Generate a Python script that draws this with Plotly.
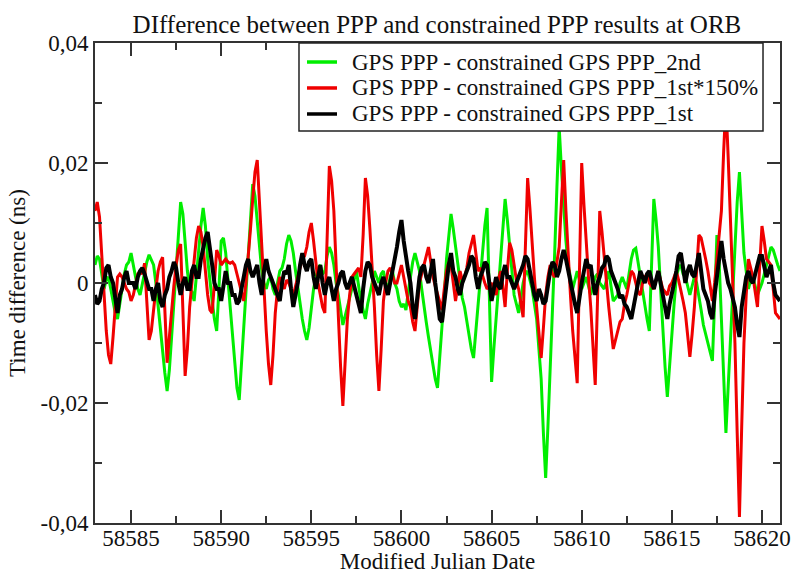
import plotly.graph_objects as go

# GPS PPP - constrained GPS PPP_2nd (ns), sampled every 0.125 day from MJD 58583.0
green_start, green_step = 58583.0, 0.125
green_vals = [
    0.003, 0.0045, 0.004, 0.001, -0.001, 0.0005, 0.001, -0.001, -0.003, -0.005,
    -0.006, -0.0035, -0.001, 0.0015, 0.003, 0.0035, 0.005, 0.003, 0.001, -0.001,
    -0.002, 0.0, 0.002, 0.0035, 0.0047, 0.0038, 0.003, 0.0, -0.004, -0.0075,
    -0.011, -0.015, -0.018, -0.0145, -0.009, -0.003, 0.002, 0.008, 0.0135, 0.0115,
    0.006, 0.002, -0.001, -0.0015, -0.003, 0.001, 0.006, 0.0095, 0.0125, 0.0095,
    0.004, 0.0, -0.003, -0.006, -0.008, -0.001, 0.007, 0.0075, 0.005, 0.0005,
    -0.004, -0.0085, -0.013, -0.0175, -0.0195, -0.0135, -0.006, 0.0, 0.006, 0.0115,
    0.0165, 0.0145, 0.010, 0.0055, 0.002, 0.0, -0.001, 0.0005, 0.001, -0.001,
    -0.002, 0.0, 0.002, 0.0025, 0.004, 0.0065, 0.008, 0.007, 0.005, 0.002,
    -0.001, -0.004, -0.006, -0.008, -0.0095, -0.0075, -0.004, -0.001, 0.001, 0.0025,
    0.003, 0.0015, 0.002, 0.0045, 0.006, 0.005, 0.003, 0.0, -0.002, -0.005,
    -0.007, -0.0055, -0.004, -0.0025, -0.001, 0.001, 0.002, -0.0005, -0.003, -0.0045,
    -0.006, -0.0035, -0.002, 0.0, 0.002, 0.001, 0.000, 0.0015, 0.002, 0.0,
    -0.001, 0.001, 0.002, 0.0, -0.001, -0.003, -0.004, -0.0035, -0.0045, -0.0015,
    0.001, 0.0035, 0.005, 0.0035, 0.002, -0.001, -0.004, -0.0065, -0.009, -0.0115,
    -0.014, -0.016, -0.0175, -0.0125, -0.008, -0.002, 0.004, 0.008, 0.0115, 0.009,
    0.006, 0.003, 0.000, -0.0025, -0.004, -0.0065, -0.009, -0.011, -0.0125, -0.008,
    -0.004, 0.001, 0.006, 0.0095, 0.0125, -0.002, -0.0165, -0.011, -0.006, -0.001,
    0.004, 0.009, 0.014, 0.0105, 0.006, 0.002, -0.002, -0.0035, -0.005, -0.0025,
    0.000, 0.0015, 0.002, 0.0005, -0.001, -0.0035, -0.006, -0.011, -0.016, -0.025,
    -0.0325, -0.024, -0.015, -0.005, 0.005, 0.016, 0.026, 0.019, 0.012, 0.007,
    0.003, 0.001, -0.001, 0.0005, 0.002, 0.0005, -0.001, 0.0, 0.001, -0.0005,
    -0.002, -0.0005, 0.001, 0.0015, 0.000, -0.0005, -0.001, 0.0005, 0.002, -0.0005,
    -0.003, -0.0025, -0.002, 0.0, 0.001, 0.0, -0.001, 0.0015, 0.004, 0.0055,
    0.0058, 0.0035, 0.001, -0.0015, -0.004, -0.006, -0.008, 0.003, 0.014, 0.0105,
    0.006, -0.001, -0.008, -0.014, -0.019, -0.0135, -0.008, -0.0035, 0.001, 0.0025,
    0.003, 0.0015, 0.001, -0.0005, -0.002, -0.0005, 0.001, 0.0, -0.002, -0.0045,
    -0.007, -0.0085, -0.010, -0.0115, -0.013, -0.003, 0.008, 0.0035, -0.005, -0.0155,
    -0.025, -0.017, -0.008, 0.0, 0.008, 0.0135, 0.0185, 0.012, 0.005, 0.002,
    -0.001, 0.0005, 0.001, -0.0005, -0.002, -0.001, 0.000, 0.0015, 0.003, 0.0045,
    0.006, 0.0055, 0.004, 0.003, 0.002,
]

# GPS PPP - constrained GPS PPP_1st*150% (ns), sampled every 0.125 day
red_start, red_step = 58583.0, 0.125
red_vals = [
    0.012, 0.0135, 0.011, 0.005, -0.002, -0.008, -0.012, -0.0135, -0.009, -0.004,
    0.001, 0.0015, 0.001, 0.0, -0.001, -0.0015, -0.003, -0.002, 0.000, 0.0015,
    0.002, 0.0015, 0.0033, -0.003, -0.0095, -0.008, -0.004, -0.001, 0.002, 0.0035,
    0.0043, -0.005, -0.0133, -0.009, -0.004, -0.0005, 0.003, 0.0055, 0.0065, -0.004,
    -0.0155, -0.011, -0.004, 0.0, 0.004, 0.0075, 0.0095, 0.0085, 0.006, 0.002,
    -0.002, -0.0045, -0.005, 0.0, 0.0055, 0.0045, 0.003, 0.0035, 0.004, 0.0035,
    0.0033, 0.0035, 0.003, 0.0015, 0.000, -0.002, -0.003, 0.0, 0.004, 0.009,
    0.014, 0.0185, 0.0205, 0.013, 0.005, -0.002, -0.008, -0.0135, -0.017, -0.012,
    -0.005, -0.001, 0.001, 0.0, -0.001, 0.0005, 0.000, -0.001, -0.002, -0.0005,
    0.001, 0.003, 0.004, 0.0045, 0.006, 0.0085, 0.010, 0.007, 0.003, 0.0,
    -0.002, -0.004, -0.005, 0.008, 0.0195, 0.017, 0.012, 0.003, -0.006, -0.014,
    -0.0205, -0.0135, -0.006, -0.002, 0.001, 0.0015, 0.002, 0.0025, 0.001, 0.008,
    0.0175, 0.0145, 0.009, 0.003, -0.004, -0.012, -0.018, -0.011, -0.003, 0.0,
    0.002, 0.0025, 0.001, 0.0, 0.000, 0.0015, 0.003, 0.001, -0.001, -0.003,
    -0.004, -0.0065, -0.008, -0.0045, 0.000, 0.0015, 0.003, 0.0045, 0.006, 0.0035,
    0.001, -0.0005, -0.002, -0.0035, -0.0045, -0.001, 0.002, 0.0035, 0.003, 0.0,
    -0.003, -0.0005, 0.002, 0.0005, 0.001, 0.0025, 0.005, 0.0065, 0.008, 0.005,
    0.002, 0.0025, 0.001, 0.0, -0.001, -0.0005, 0.000, -0.001, -0.002, 0.0005,
    0.002, -0.0005, -0.004, 0.002, 0.0067, 0.0055, 0.003, 0.0005, -0.001, -0.0035,
    -0.0057, 0.006, 0.0175, 0.0125, 0.006, 0.001, -0.004, -0.0085, -0.0125, -0.0075,
    -0.002, 0.001, 0.003, 0.0015, 0.001, 0.0035, 0.006, 0.0135, 0.0205, 0.012,
    0.004, -0.002, -0.008, -0.0125, -0.0167, 0.002, 0.020, 0.013, 0.006, 0.001,
    -0.004, -0.0105, -0.017, -0.003, 0.012, 0.0085, 0.004, 0.0, -0.004, -0.0075,
    -0.011, -0.0095, -0.008, -0.0065, -0.006, -0.0035, -0.002, 0.0, 0.002, 0.0015,
    0.000, -0.0015, -0.002, 0.0, 0.001, 0.0015, 0.000, -0.0005, -0.001, 0.0005,
    0.002, 0.0005, -0.001, -0.0015, -0.002, -0.0005, 0.000, 0.001, 0.002, 0.0005,
    -0.001, -0.003, -0.005, -0.009, -0.0123, -0.0085, -0.004, 0.002, 0.008, 0.0075,
    0.006, 0.004, 0.002, -0.0005, -0.003, 0.0, 0.004, 0.0075, 0.012, 0.022,
    0.030, 0.021, 0.010, 0.0, -0.010, -0.025, -0.039, -0.024, -0.010, -0.002,
    0.004, 0.0025, 0.001, -0.0015, -0.004, 0.003, 0.0095, 0.007, 0.004, 0.0035,
    0.003, -0.001, -0.005, -0.0055, -0.006,
]

# GPS PPP - constrained GPS PPP_1st (ns), sampled every 0.125 day
black_start, black_step = 58583.0, 0.125
black_vals = [
    -0.002, -0.0035, -0.003, -0.001, 0.000, 0.0025, 0.003, 0.001, 0.000, -0.003,
    -0.005, -0.002, -0.001, 0.001, 0.002, 0.000, 0.000, 0.000, -0.001, 0.001,
    0.002, 0.0025, 0.0015, 0.000, -0.001, -0.001, -0.003, -0.001, 0.000, -0.003,
    -0.004, -0.002, -0.001, 0.001, 0.002, 0.0035, 0.0025, 0.000, -0.002, 0.000,
    0.001, -0.001, -0.001, 0.002, 0.003, 0.001, 0.001, 0.004, 0.006, 0.0075,
    0.0085, 0.005, 0.003, 0.000, -0.001, -0.001, -0.003, -0.0005, 0.002, 0.000,
    0.000, -0.002, -0.002, -0.0035, -0.003, -0.001, 0.001, 0.003, 0.004, 0.002,
    0.001, 0.002, 0.003, 0.000, -0.002, 0.002, 0.004, 0.002, 0.001, 0.000,
    -0.001, -0.002, -0.003, 0.000, 0.002, 0.0015, 0.003, -0.001, -0.004, -0.002,
    0.000, 0.003, 0.005, 0.003, 0.002, 0.0035, 0.004, 0.001, -0.001, 0.001,
    0.003, 0.000, -0.002, 0.000, 0.001, -0.001, -0.003, -0.001, 0.000, 0.0015,
    0.002, 0.000, -0.001, 0.000, 0.001, -0.0005, -0.002, -0.004, -0.005, -0.001,
    0.002, 0.0035, 0.003, 0.001, 0.000, -0.001, -0.002, 0.000, 0.001, -0.0005,
    -0.002, 0.000, 0.002, 0.0035, 0.006, 0.0085, 0.0105, 0.007, 0.004, 0.002,
    0.000, -0.004, -0.006, -0.002, 0.001, 0.0025, 0.003, 0.001, 0.000, 0.002,
    0.004, 0.000, -0.003, -0.006, -0.0065, -0.003, 0.000, 0.003, 0.005, 0.002,
    0.001, -0.001, -0.002, 0.000, 0.001, 0.002, 0.003, 0.0045, 0.004, 0.001,
    -0.001, 0.001, 0.002, 0.0035, 0.003, 0.000, -0.003, -0.001, 0.001, -0.0005,
    -0.001, 0.0015, 0.003, 0.001, 0.001, 0.000, -0.001, 0.000, 0.001, 0.002,
    0.003, 0.0045, 0.004, 0.002, 0.000, -0.002, -0.003, -0.001, -0.002, -0.0035,
    -0.003, 0.000, 0.002, 0.0035, 0.003, 0.001, 0.002, 0.004, 0.0055, 0.004,
    0.002, 0.000, -0.002, -0.0035, -0.005, -0.002, 0.000, 0.002, 0.004, 0.0025,
    0.003, 0.000, -0.002, 0.000, 0.001, 0.0025, 0.003, 0.0045, 0.004, 0.002,
    0.001, 0.000, -0.001, -0.0025, -0.002, -0.0035, -0.004, -0.005, -0.006, -0.004,
    -0.002, 0.0005, 0.002, 0.001, 0.000, 0.0015, 0.002, 0.0005, -0.001, 0.0005,
    0.002, 0.000, -0.002, -0.004, -0.006, -0.0035, -0.002, 0.000, 0.002, 0.0045,
    0.005, 0.002, 0.000, 0.002, 0.003, 0.0015, 0.001, 0.003, 0.005, 0.002,
    -0.001, -0.002, -0.003, -0.005, -0.006, -0.002, 0.001, 0.004, 0.007, 0.004,
    0.002, 0.000, -0.001, -0.0025, -0.004, -0.007, -0.009, -0.004, -0.001, 0.001,
    0.002, 0.0005, 0.000, 0.0015, 0.003, 0.0045, 0.0045, 0.0025, 0.001, 0.002,
    0.003, 0.000, -0.002, -0.0025, -0.003,
]

series_names = [
    "GPS PPP - constrained GPS PPP_2nd",
    "GPS PPP - constrained GPS PPP_1st*150%",
    "GPS PPP - constrained GPS PPP_1st",
]
series_colors = ["#00ee00", "#f00000", "#000000"]
series_widths = [3, 3, 4]

y_tick_vals = [-0.04, -0.02, 0, 0.02, 0.04]
y_tick_text = ["-0,04", "-0,02", "0", "0,02", "0,04"]
y_minor_vals = [-0.03, -0.01, 0.01, 0.03]

x_range = [58583, 58621]
y_range = [-0.04, 0.04]

FONT = "Liberation Serif"
TXT = "#111111"
AX = "#333333"

fig = go.Figure()
series = [
    (green_start, green_step, green_vals),
    (red_start, red_step, red_vals),
    (black_start, black_step, black_vals),
]
for (start, step, vals), name, color, w in zip(series, series_names,
                                                series_colors, series_widths):
    xs = [start + step * i for i in range(len(vals))]
    fig.add_trace(go.Scatter(x=xs, y=vals, mode="lines", name=name,
                             line=dict(color=color, width=w), showlegend=False))

# Legend drawn as a boxed key in the upper right of the plot area
leg_x0, leg_x1, leg_y0, leg_y1 = 0.2978, 0.9752, 0.8167, 1.0
row_y = [0.9604, 0.9063, 0.8521]
sample_x0, sample_x1, text_x = 0.3095, 0.3533, 0.3723
fig.add_shape(type="rect", xref="paper", yref="paper",
              x0=leg_x0, x1=leg_x1, y0=leg_y0, y1=leg_y1,
              fillcolor="white", line=dict(color="#222222", width=1.5), layer="above")
for name, color, ry in zip(series_names, series_colors, row_y):
    fig.add_shape(type="line", xref="paper", yref="paper",
                  x0=sample_x0, x1=sample_x1, y0=ry, y1=ry,
                  line=dict(color=color, width=3.5), layer="above")
    fig.add_annotation(x=text_x, y=ry, xref="paper", yref="paper",
                       text=name, showarrow=False, xanchor="left", yanchor="middle",
                       font=dict(family=FONT, size=23, color=TXT))

axis_common = dict(
    showline=True, linecolor=AX, linewidth=2, mirror="allticks",
    ticks="inside", tickcolor=AX, tickwidth=1.5, ticklen=13,
    showgrid=False, zeroline=False, automargin=False,
    tickfont=dict(family=FONT, size=23, color=TXT),
)

fig.update_layout(
    width=793, height=574,
    margin=dict(l=95, r=13, t=43, b=51),
    paper_bgcolor="white", plot_bgcolor="white",
    font=dict(family=FONT, size=23, color=TXT),
    title=dict(text="DIfference between PPP and constrained PPP results at ORB",
               x=0.551, xanchor="center", y=0.958, yanchor="middle",
               font=dict(family=FONT, size=25, color=TXT)),
    showlegend=False,
)

fig.update_xaxes(
    range=x_range, tick0=58585, dtick=5, tickformat="d", ticklabelstandoff=-7,
    minor=dict(dtick=2.5, ticks="inside", ticklen=7, tickcolor=AX, tickwidth=1.5),
    title=dict(text="Modified Julian Date", standoff=0,
               font=dict(family=FONT, size=23, color=TXT)),
    **axis_common,
)
fig.update_yaxes(
    range=y_range, tickvals=y_tick_vals, ticktext=y_tick_text,
    minor=dict(tickvals=y_minor_vals, ticks="inside", ticklen=7,
               tickcolor=AX, tickwidth=1.5),
    title=dict(text="Time difference (ns)", standoff=8,
               font=dict(family=FONT, size=23, color=TXT)),
    **axis_common,
)

fig.write_html("out.html")
